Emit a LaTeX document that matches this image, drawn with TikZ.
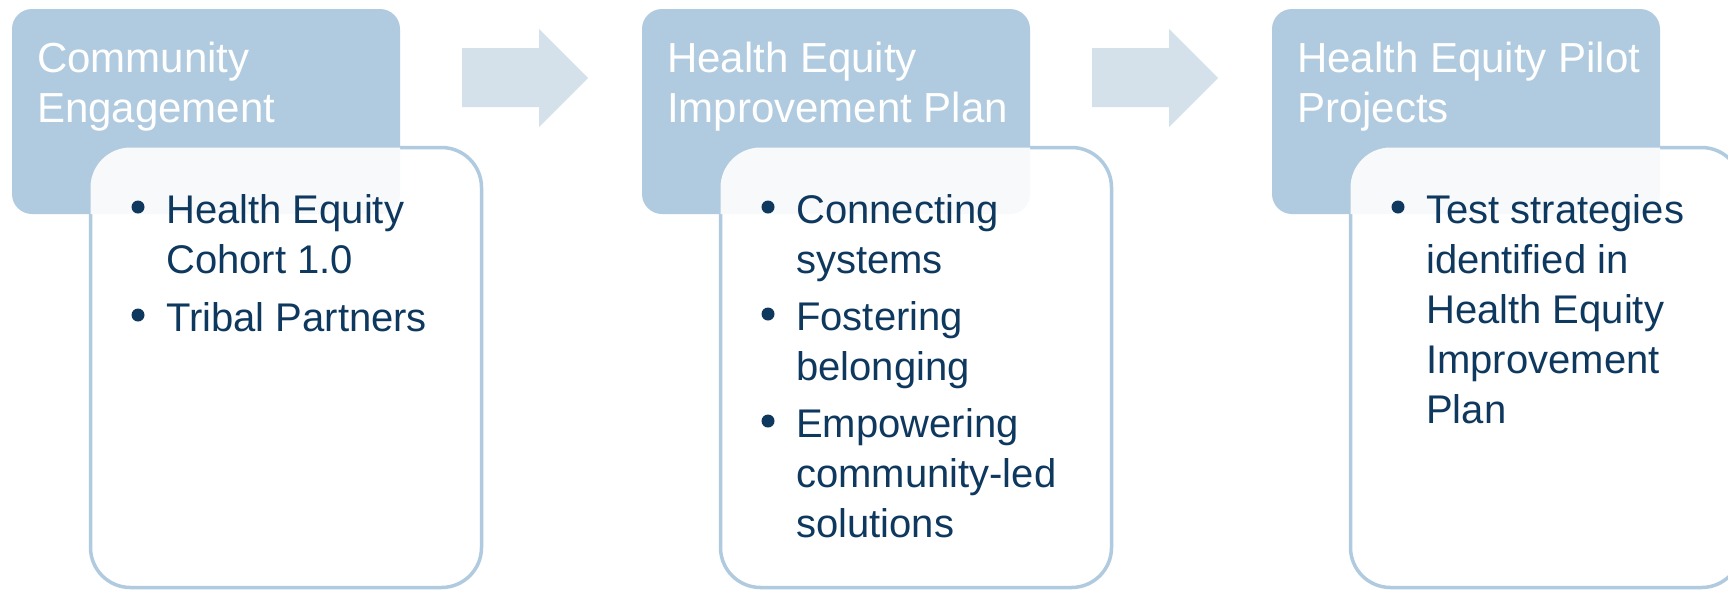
\documentclass[tikz,border=0pt]{standalone}
\usepackage{fontspec}
\setmainfont{Liberation Sans}
\definecolor{hdr}{HTML}{B0CBDF}
\definecolor{arr}{HTML}{D4E1EB}
\definecolor{navy}{HTML}{0E385E}
\definecolor{ovl}{HTML}{F7F9FB}
\newcommand\ttlfont{\fontsize{42}{50}\selectfont}
\newcommand\bdyfont{\fontsize{40}{50}\selectfont}
\tikzset{
  hdrbox/.style={rectangle, fill=hdr, draw=none, rounded corners=20pt, minimum width=388pt, minimum height=205pt, inner sep=0pt},
  cntbox/.style={rectangle, fill=white, draw=hdr, line width=3.5pt, rounded corners=40pt, minimum width=391pt, minimum height=440pt, inner sep=0pt},
  blockarrow/.style={fill=arr, draw=none},
  ttl/.style={anchor=base west, inner sep=0pt, text=white, font=\ttlfont},
  bdy/.style={anchor=base west, inner sep=0pt, text=navy, font=\bdyfont},
  bul/.style={circle, fill=navy, inner sep=0pt, minimum size=13pt}
}
\begin{document}
\begin{tikzpicture}[x=1pt,y=-1pt]
\useasboundingbox (0,0) rectangle (1728,590);
\fill[white] (0,0) rectangle (1728,590);
\begin{scope}
\clip (0,0) rectangle (1728,590);
% headers
\node[hdrbox] (h1) at (206,111.5) {};
\node[hdrbox] (h2) at (836,111.5) {};
\node[hdrbox] (h3) at (1466,111.5) {};
% arrows
\foreach \dx in {0,630}{
  \path[blockarrow] (462+\dx,48) -- (539+\dx,48) -- (539+\dx,29) -- (588+\dx,78)
     -- (539+\dx,127) -- (539+\dx,107) -- (462+\dx,107) -- cycle;
}
% content boxes
\node[cntbox] (c1) at (286,367.5) {};
\node[cntbox] (c2) at (916,367.5) {};
\node[cntbox] (c3) at (1546,367.5) {};
% overlap of header and content box (translucent white over header)
\foreach \dx in {0,630,1260}{
  \begin{scope}
    \clip[rounded corners=40pt] (90.5+\dx,147.5) rectangle (481.5+\dx,587.5);
    \fill[ovl, rounded corners=20pt] (12+\dx,9) rectangle (400+\dx,214);
  \end{scope}
}
\end{scope}
% titles
\node[ttl] (t1a) at (37,72) {Community};
\node[ttl] (t1b) at (37,122) {Engagement};
\node[ttl] (t2a) at (667,72) {Health Equity};
\node[ttl] (t2b) at (667,122) {Improvement Plan};
\node[ttl] (t3a) at (1297,72) {Health Equity Pilot};
\node[ttl] (t3b) at (1297,122) {Projects};
% column 1
\node[bul] (b11) at (138,207) {};
\node[bdy] (l11) at (166,223) {Health Equity};
\node[bdy] (l12) at (166,273) {Cohort 1.0};
\node[bul] (b12) at (138,315) {};
\node[bdy] (l13) at (166,331) {Tribal Partners};
% column 2
\node[bul] (b21) at (768,207) {};
\node[bdy] (l21) at (796,223) {Connecting};
\node[bdy] (l22) at (796,273) {systems};
\node[bul] (b22) at (768,314) {};
\node[bdy] (l23) at (796,330) {Fostering};
\node[bdy] (l24) at (796,380) {belonging};
\node[bul] (b23) at (768,421) {};
\node[bdy] (l25) at (796,437) {Empowering};
\node[bdy] (l26) at (796,487) {community-led};
\node[bdy] (l27) at (796,537) {solutions};
% column 3
\node[bul] (b31) at (1398,207) {};
\node[bdy] (l31) at (1426,223) {Test strategies};
\node[bdy] (l32) at (1426,273) {identified in};
\node[bdy] (l33) at (1426,323) {Health Equity};
\node[bdy] (l34) at (1426,373) {Improvement};
\node[bdy] (l35) at (1426,423) {Plan};
\end{tikzpicture}
\end{document}
